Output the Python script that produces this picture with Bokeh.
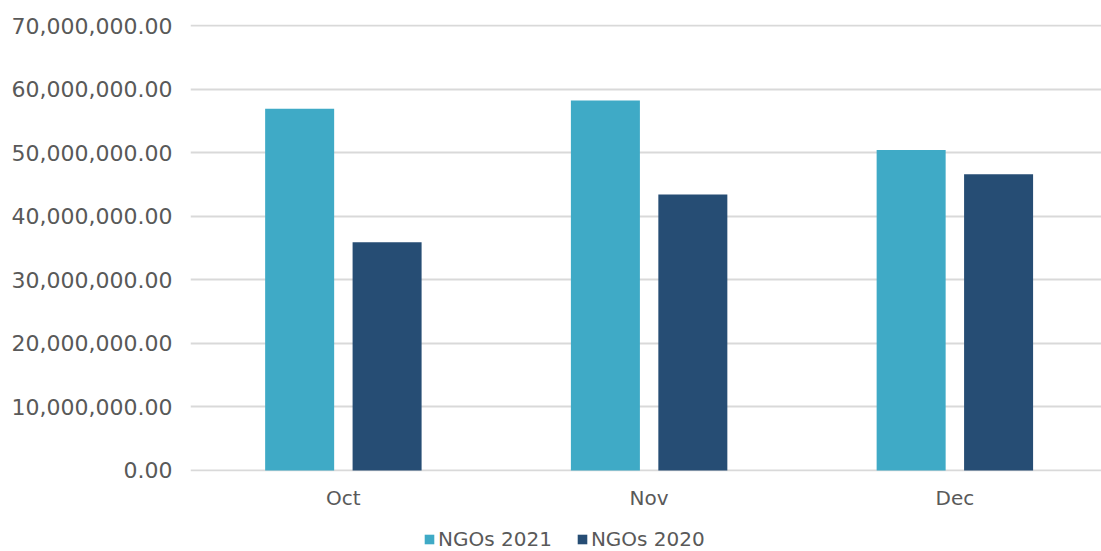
from bokeh.plotting import figure
from bokeh.layouts import column
from bokeh.models import Range1d, FixedTicker, NumeralTickFormatter, Legend, LegendItem, ColumnDataSource
from bokeh.embed import file_html
from bokeh.resources import INLINE
import numpy as np

months = ["Oct", "Nov", "Dec"]
ngos_2021 = [56.9e6, 58.2e6, 50.4e6]
ngos_2020 = [35.9e6, 43.4e6, 46.6e6]
series_names = ["NGOs 2021", "NGOs 2020"]
y_ticks = [0, 10e6, 20e6, 30e6, 40e6, 50e6, 60e6, 70e6]

c2021 = "#3FAAC6"
c2020 = "#264D74"
txt = "#595959"
grid = "#D9D9D9"
font = "DejaVu Sans"

idx = np.arange(len(months)) + 0.5
src = ColumnDataSource(dict(x21=idx - 0.143, x20=idx + 0.143, y21=ngos_2021, y20=ngos_2020, m=months))

p = figure(width=1101, height=520, output_backend="svg", toolbar_location=None,
           x_range=Range1d(0, 2.9796), y_range=Range1d(-0.16e6, 70.16e6),
           min_border_left=190, min_border_top=24, min_border_right=0, min_border_bottom=49)
p.outline_line_color = None
p.background_fill_color = "white"
p.border_fill_color = "white"

r21 = p.vbar(x="x21", top="y21", width=0.2257, source=src, fill_color=c2021, line_color=None)
r20 = p.vbar(x="x20", top="y20", width=0.2257, source=src, fill_color=c2020, line_color=None)

p.xgrid.visible = False
p.ygrid.grid_line_color = grid
p.ygrid.grid_line_width = 2
p.ygrid.level = "underlay"
p.yaxis.ticker = FixedTicker(ticks=y_ticks)
p.yaxis.formatter = NumeralTickFormatter(format="0,0.00")
p.yaxis.axis_line_color = None
p.yaxis.major_tick_line_color = None
p.yaxis.minor_tick_line_color = None
p.yaxis.major_label_text_font = font
p.yaxis.major_label_text_font_size = "22px"
p.yaxis.major_label_text_color = txt
p.yaxis.major_label_standoff = 12

p.xaxis.ticker = FixedTicker(ticks=list(idx))
p.xaxis.major_label_overrides = {float(v): m for v, m in zip(idx, months)}
p.xaxis.axis_line_color = None
p.xaxis.major_tick_line_color = None
p.xaxis.minor_tick_line_color = None
p.xaxis.major_label_text_font = font
p.xaxis.major_label_text_font_size = "20px"
p.xaxis.major_label_text_color = txt
p.xaxis.major_label_standoff = 8

# legend strip below the chart (proxy glyphs sit outside its visible range)
lg = figure(width=1101, height=31, output_backend="svg", toolbar_location=None,
            x_range=Range1d(0, 1), y_range=Range1d(0, 1),
            min_border_left=0, min_border_right=0, min_border_top=0, min_border_bottom=0)
lg.axis.visible = False
lg.grid.visible = False
lg.outline_line_color = None
lg.border_fill_color = "white"
d21 = lg.vbar(x=[5], top=[1], width=0.1, fill_color=c2021, line_color=None)
d20 = lg.vbar(x=[5], top=[1], width=0.1, fill_color=c2020, line_color=None)
legend = Legend(items=[LegendItem(label=series_names[0], renderers=[d21]),
                       LegendItem(label=series_names[1], renderers=[d20])],
                orientation="horizontal", location=(233, 0),
                label_text_font=font, label_text_font_size="20px", label_text_color=txt,
                label_height=20, glyph_width=12, glyph_height=12, label_standoff=3, spacing=24,
                margin=0, padding=0, border_line_color=None, background_fill_alpha=0)
lg.add_layout(legend, "center")

layout = column(p, lg, spacing=0)
open("out.html", "w").write(file_html(layout, INLINE))
